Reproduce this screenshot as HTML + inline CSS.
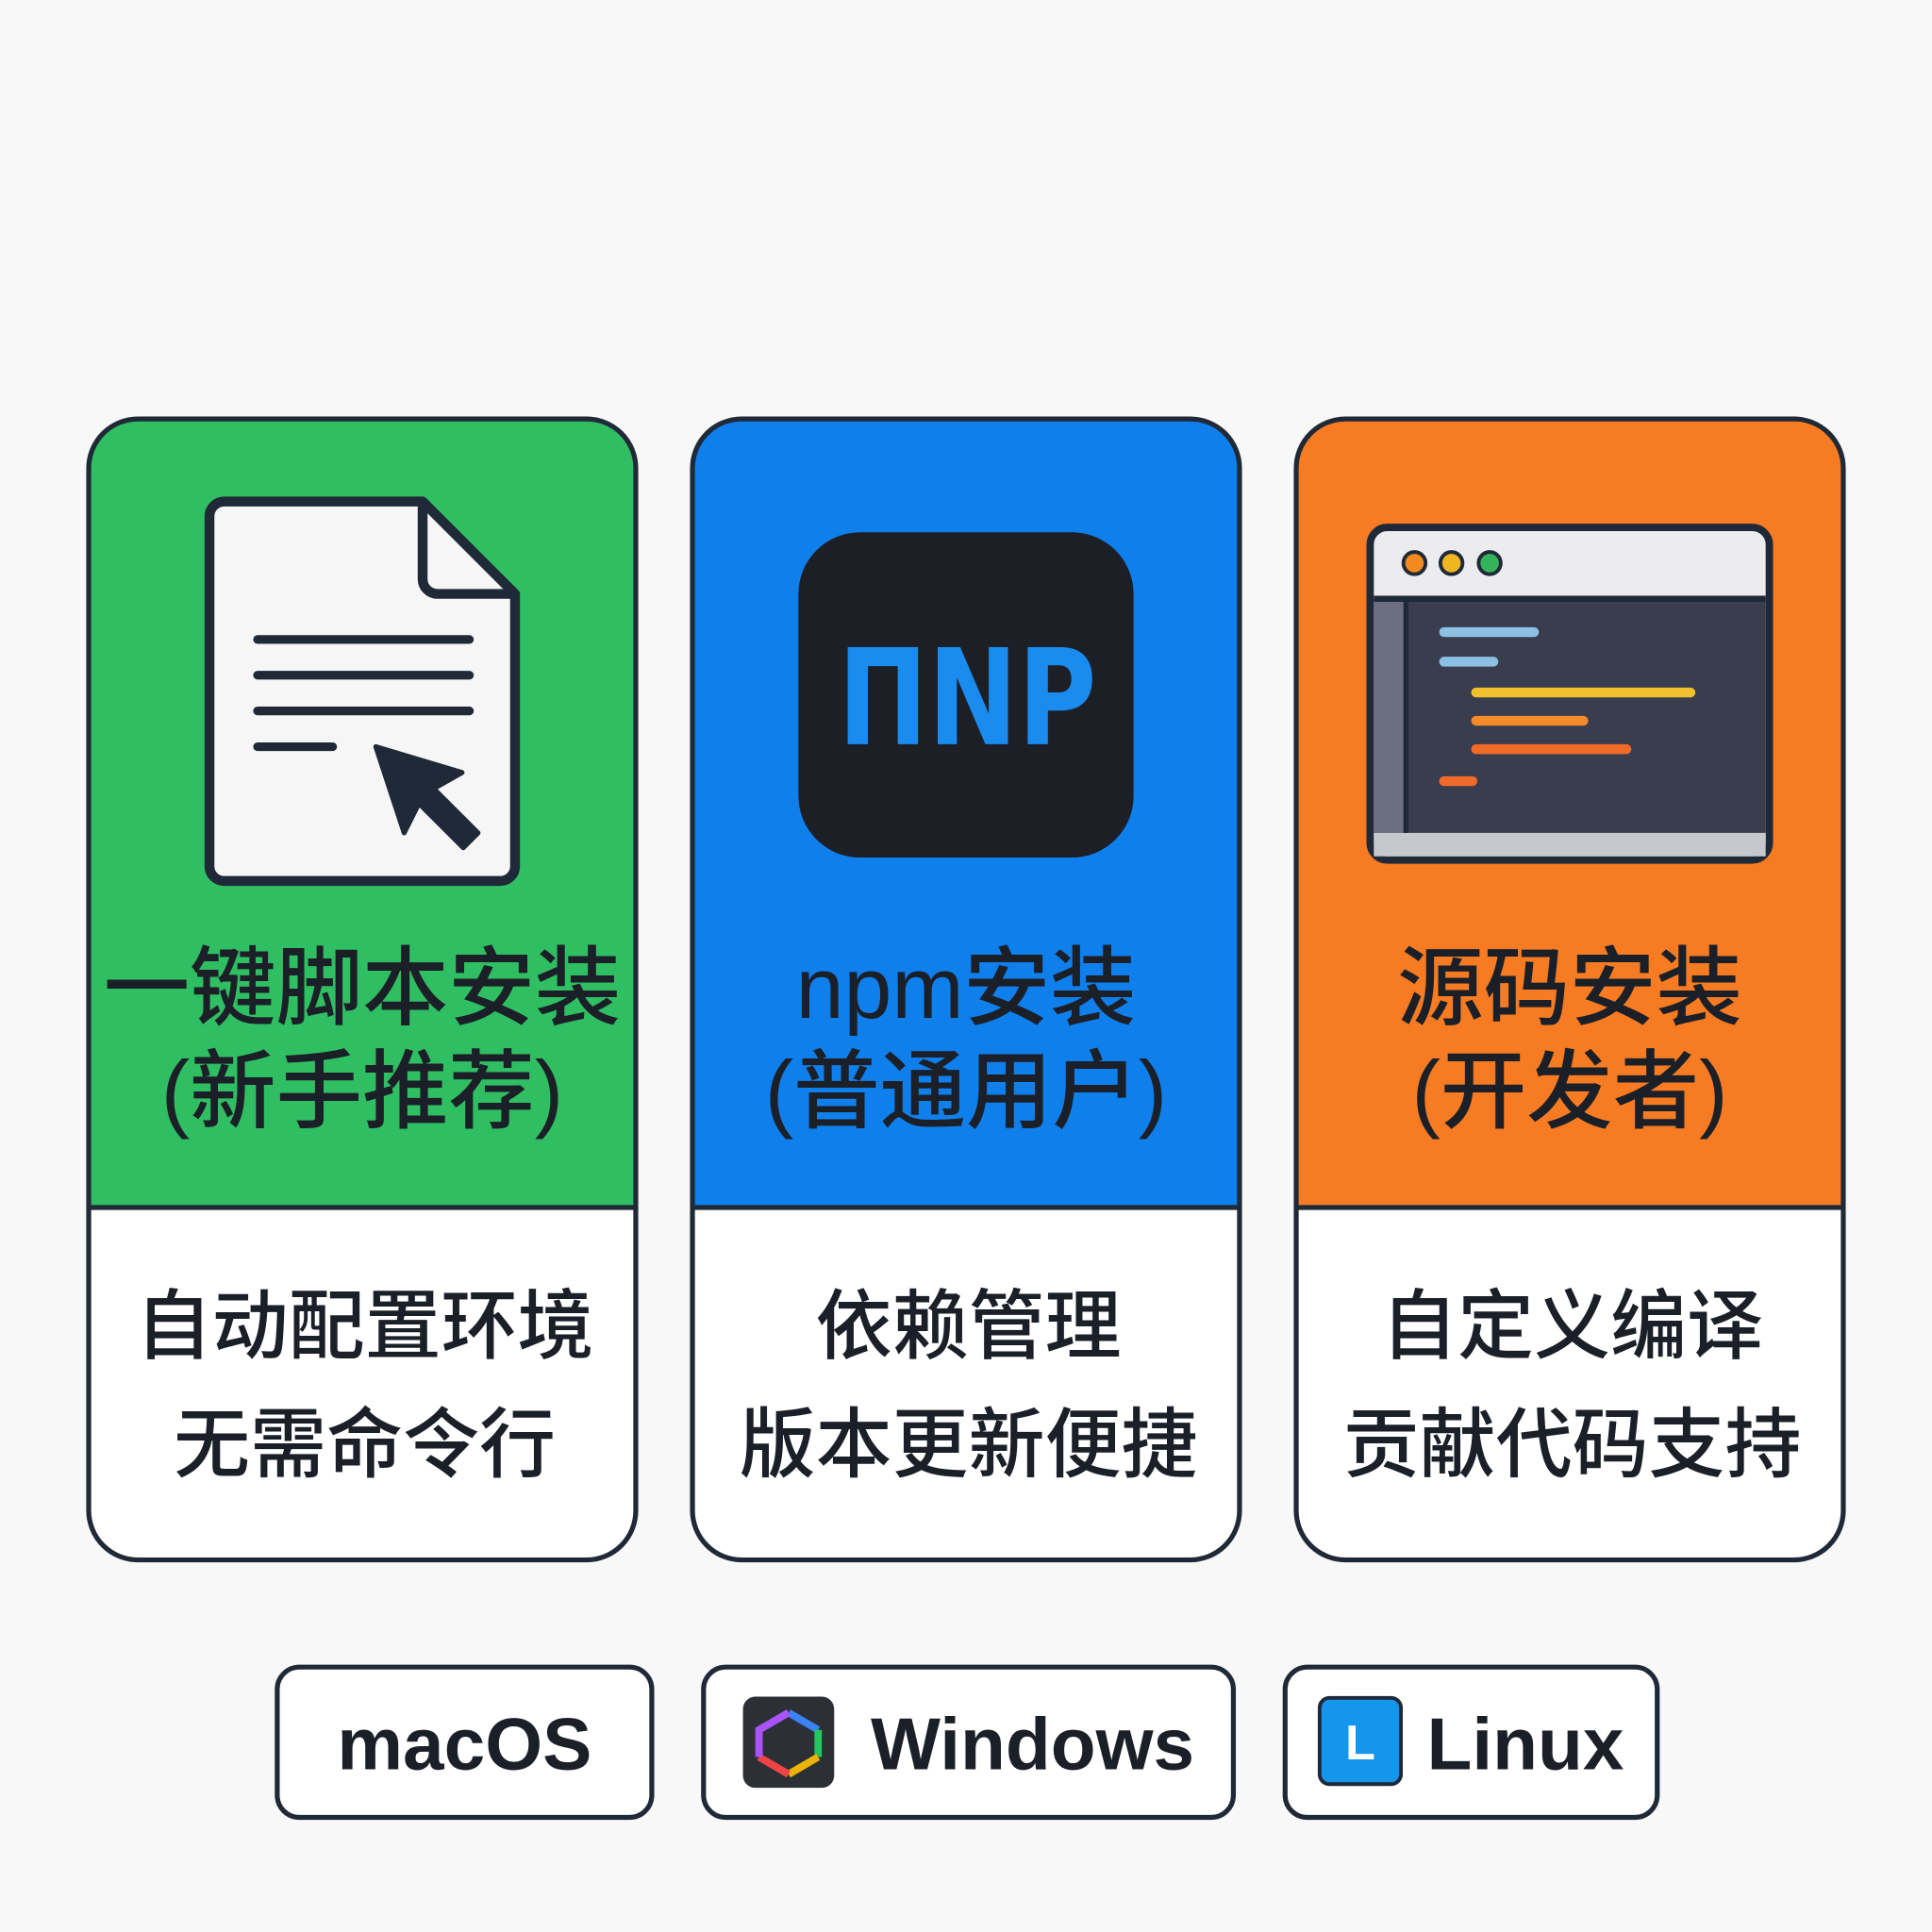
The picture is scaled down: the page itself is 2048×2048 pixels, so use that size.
<!DOCTYPE html>
<html><head><meta charset="utf-8"><style>
html,body{margin:0;padding:0;background:#f7f8f7;}
svg{display:block}
text{font-family:"Liberation Sans","Noto Sans CJK SC",sans-serif;font-weight:bold;fill:#1b1f27;text-anchor:middle}
.m{font-weight:500}
</style></head><body>
<svg width="2048" height="2048" viewBox="0 0 1568 1568" xmlns="http://www.w3.org/2000/svg">
<rect width="1568" height="1568" fill="#f7f8f7"/>
<defs>
<clipPath id="c1"><rect x="72" y="340" width="444" height="926" rx="40"/></clipPath>
<clipPath id="c2"><rect x="562" y="340" width="444" height="926" rx="40"/></clipPath>
<clipPath id="c3"><rect x="1052" y="340" width="444" height="926" rx="40"/></clipPath>
</defs>
<g clip-path="url(#c1)"><rect x="72" y="340" width="444" height="640" fill="#2fbf62"/><rect x="72" y="980" width="444" height="290" fill="#fff"/></g>
<g clip-path="url(#c2)"><rect x="562" y="340" width="444" height="640" fill="#0f7fec"/><rect x="562" y="980" width="444" height="290" fill="#fff"/></g>
<g clip-path="url(#c3)"><rect x="1052" y="340" width="444" height="640" fill="#f77b22"/><rect x="1052" y="980" width="444" height="290" fill="#fff"/></g>
<g fill="none" stroke="#1f2937" stroke-width="4">
<rect x="72" y="340" width="444" height="926" rx="40"/>
<rect x="562" y="340" width="444" height="926" rx="40"/>
<rect x="1052" y="340" width="444" height="926" rx="40"/>
<line x1="72" y1="980" x2="516" y2="980"/><line x1="562" y1="980" x2="1006" y2="980"/><line x1="1052" y1="980" x2="1496" y2="980"/>
</g>
<path d="M182 407 H343 L418 482 V703 a12 12 0 0 1 -12 12 H182 a12 12 0 0 1 -12 -12 V419 a12 12 0 0 1 12 -12Z" fill="#f6f6f6" stroke="#1f2937" stroke-width="8" stroke-linejoin="round"/>
<path d="M343 407 V470 a12 12 0 0 0 12 12 H418" fill="none" stroke="#1f2937" stroke-width="8" stroke-linejoin="round"/>
<g stroke="#1f2937" stroke-width="7" stroke-linecap="round"><line x1="209" y1="519" x2="381" y2="519"/><line x1="209" y1="548" x2="381" y2="548"/><line x1="209" y1="577" x2="381" y2="577"/><line x1="209" y1="606" x2="270" y2="606"/></g>
<path d="M305 606 L375 627 L352 640 L388 676 L376 688 L340 652 L328 676Z" fill="#1f2937" stroke="#1f2937" stroke-width="4" stroke-linejoin="round"/>
<rect x="648" y="432" width="272" height="264" rx="50" fill="#1c1f26"/>
<text x="785" y="604" style="font-size:108px;fill:#1a8cf0;font-family:'DejaVu Sans',sans-serif" textLength="210" lengthAdjust="spacingAndGlyphs">ΠNP</text>
<rect x="1112" y="428" width="324" height="270" rx="14" fill="#ececee" stroke="#1f2937" stroke-width="6"/>
<rect x="1115" y="486" width="318" height="190" fill="#3a3d4e"/>
<rect x="1115" y="486" width="26" height="190" fill="#6b6f80"/>
<line x1="1141" y1="486" x2="1141" y2="676" stroke="#1f2937" stroke-width="4"/>
<rect x="1115" y="676" width="318" height="19" fill="#c7c8cd"/>
<line x1="1115" y1="486" x2="1433" y2="486" stroke="#1f2937" stroke-width="5"/>
<circle cx="1148" cy="457" r="9" fill="#f28a1f" stroke="#1f2937" stroke-width="3"/>
<circle cx="1178" cy="457" r="9" fill="#f0b622" stroke="#1f2937" stroke-width="3"/>
<circle cx="1209" cy="457" r="9" fill="#35b35a" stroke="#1f2937" stroke-width="3"/>
<g stroke-width="8" stroke-linecap="round"><line x1="1172" y1="513" x2="1245" y2="513" stroke="#8cc0e4"/><line x1="1172" y1="537" x2="1212" y2="537" stroke="#8cc0e4"/><line x1="1198" y1="562" x2="1372" y2="562" stroke="#f2c12e"/><line x1="1198" y1="585" x2="1285" y2="585" stroke="#f58b2a"/><line x1="1198" y1="608" x2="1320" y2="608" stroke="#f06a2a"/><line x1="1172" y1="634" x2="1195" y2="634" stroke="#f06a2a"/></g>
<g style="font-size:70px" class="m">
<text class="m" x="294" y="826">一键脚本安装</text><text class="m" x="294" y="910">(新手推荐)</text>
<text class="m" x="784" y="826">npm安装</text><text class="m" x="784" y="910">(普通用户)</text>
<text class="m" x="1274" y="826">源码安装</text><text class="m" x="1274" y="910">(开发者)</text>
</g>
<g style="font-size:62px">
<text class="m" x="296" y="1098">自动配置环境</text><text class="m" x="296" y="1194">无需命令行</text>
<text class="m" x="786" y="1098">依赖管理</text><text class="m" x="786" y="1194">版本更新便捷</text>
<text class="m" x="1276" y="1098">自定义编译</text><text class="m" x="1276" y="1194">贡献代码支持</text>
</g>
<g fill="#fff" stroke="#1f2937" stroke-width="4">
<rect x="225" y="1353" width="304" height="122" rx="18"/>
<rect x="571" y="1353" width="430" height="122" rx="18"/>
<rect x="1043" y="1353" width="302" height="122" rx="18"/>
</g>
<g style="font-size:60px">
<text x="377" y="1436">macOS</text>
<text x="838" y="1436">Windows</text>
<text x="1238" y="1436">Linux</text>
</g>
<rect x="603" y="1377" width="74" height="74" rx="10" fill="#2c2f36"/>
<g fill="none" stroke-width="6"><path d="M640 1390 L664 1404" stroke="#3b82f6"/><path d="M664 1404 L664 1426" stroke="#22c55e"/><path d="M664 1426 L640 1440" stroke="#eab308"/><path d="M640 1440 L616 1426" stroke="#ef4444"/><path d="M616 1426 L616 1404 L640 1390" stroke="#a855f7"/></g>
<rect x="1071" y="1378" width="66" height="70" rx="8" fill="#1396ec" stroke="#1f2937" stroke-width="3"/>
<text x="1104" y="1428" style="font-size:40px;fill:#fff">L</text>
</svg>
</body></html>
